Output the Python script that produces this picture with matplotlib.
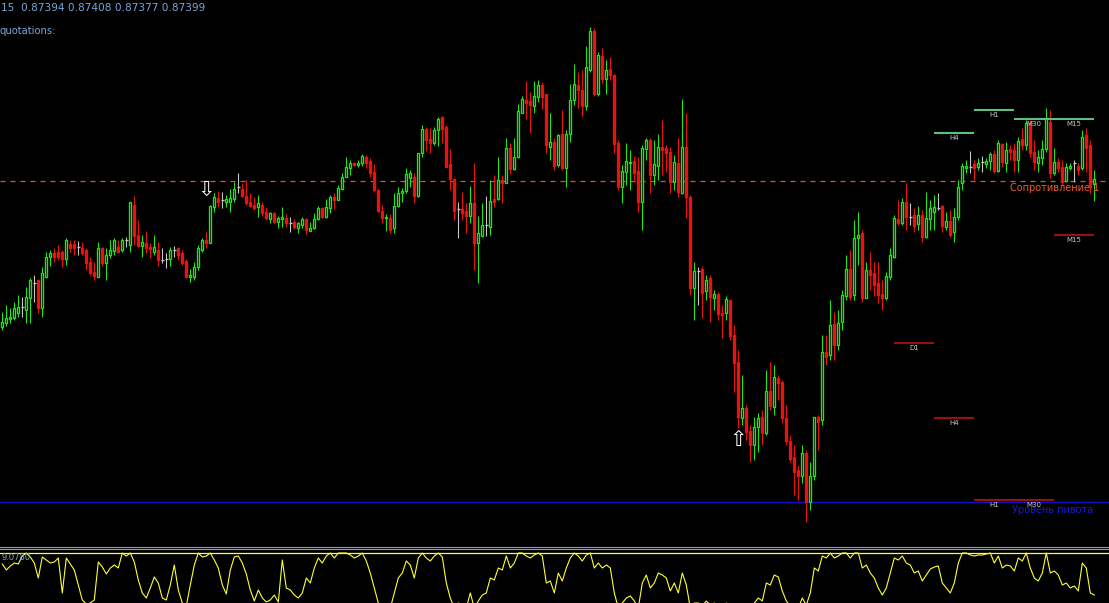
import numpy as np
import matplotlib
matplotlib.use("Agg")
import matplotlib.pyplot as plt
from matplotlib.lines import Line2D

# EURGBP M15, prices in points (1e-5) above 0.87000
opens = [251, 255, 259, 260, 265, 271, 268, 280, 295, 298, 270, 301, 321, 325, 326, 326, 319, 334, 334, 331,
         330, 328, 316, 306, 301, 330, 315, 323, 327, 331, 328, 338, 333, 373, 343, 332, 335, 331, 326, 328,
         318, 319, 319, 328, 330, 325, 317, 301, 301, 311, 328, 338, 335, 371, 380, 378, 376, 376, 379, 391,
         389, 382, 376, 373, 371, 373, 366, 359, 365, 356,
         359, 360, 355, 356, 350, 353, 359, 347, 350, 359, 370, 361, 370, 381, 378, 389, 401, 410, 415, 413,
         415, 421, 417, 406, 388, 367, 360, 360, 350, 372, 385, 387, 400, 401, 382, 425, 449, 439, 435, 448,
         461, 451, 414, 399, 369, 369, 367, 362, 375, 335, 342, 353, 351, 379, 379, 398, 395, 430, 409, 421,
         465, 478, 477, 472, 481, 493, 484, 431, 436, 413,
         444, 410, 444, 478, 493, 488, 472, 508, 547, 484, 522, 499, 509, 503, 435, 391, 406, 415, 417, 407,
         376, 429, 438, 403, 412, 431, 430, 426, 396, 415, 385, 431, 381, 290, 307, 309, 287, 300, 280, 284,
         265, 265, 278, 243, 216, 160, 170, 147, 133, 151, 161, 145, 187, 171, 200, 196, 160, 137, 121, 108,
         102, 125, 76, 102, 161, 158, 226, 223, 254, 233,
         256, 282, 309, 283, 340, 345, 280, 308, 305, 295, 284, 280, 301, 321, 359, 355, 376, 361, 363, 354,
         363, 341, 359, 366, 370, 372, 351, 357, 346, 361, 395, 410, 411, 414, 411, 416, 414, 417, 424, 407,
         434, 415, 429, 428, 418, 439, 433, 455, 426, 415, 420, 429, 456, 405, 416, 411, 397, 410, 415, 412,
         410, 443, 433, 394]
highs = [266, 273, 270, 276, 283, 281, 291, 300, 303, 298, 311, 326, 328, 330, 333, 328, 340, 338, 338, 337,
         336, 330, 321, 316, 336, 331, 330, 338, 340, 338, 340, 341, 376, 382, 358, 343, 347, 335, 343, 336,
         330, 325, 331, 332, 331, 328, 319, 309, 316, 333, 340, 346, 373, 385, 387, 386, 383, 389, 396, 405,
         395, 398, 385, 381, 383, 376, 371, 366, 366, 362,
         371, 364, 361, 359, 356, 361, 360, 356, 365, 372, 371, 379, 383, 385, 393, 405, 421, 418, 416, 418,
         424, 423, 420, 414, 389, 373, 364, 364, 385, 391, 390, 410, 408, 405, 425, 453, 451, 450, 451, 461,
         462, 453, 429, 400, 376, 386, 375, 392, 415, 362, 375, 382, 398, 403, 421, 403, 440, 435, 440, 474,
         482, 497, 486, 497, 498, 496, 484, 465, 440, 444,
         468, 448, 494, 514, 506, 508, 532, 551, 550, 526, 530, 518, 521, 504, 438, 413, 435, 428, 422, 421,
         433, 440, 440, 438, 444, 458, 433, 431, 423, 440, 479, 465, 383, 316, 311, 312, 303, 303, 288, 286,
         273, 282, 278, 253, 228, 203, 173, 153, 161, 165, 168, 208, 216, 213, 203, 198, 173, 143, 133, 113,
         133, 128, 116, 161, 163, 243, 243, 278, 266, 268,
         288, 323, 328, 358, 366, 348, 316, 326, 316, 316, 298, 306, 330, 363, 378, 380, 395, 375, 370, 372,
         368, 386, 378, 383, 385, 373, 366, 368, 370, 398, 415, 418, 427, 418, 420, 422, 420, 426, 428, 438,
         435, 436, 433, 435, 441, 450, 458, 458, 438, 428, 438, 470, 468, 430, 420, 418, 415, 415, 418, 415,
         448, 450, 438, 408]
lows = [248, 252, 255, 258, 261, 261, 255, 255, 276, 265, 261, 300, 312, 316, 318, 311, 313, 326, 323, 323,
        323, 308, 303, 298, 301, 312, 298, 320, 323, 325, 326, 331, 326, 333, 331, 321, 325, 320, 323, 312,
        315, 310, 312, 321, 318, 313, 300, 296, 298, 308, 326, 330, 335, 366, 371, 370, 371, 366, 376, 385,
        381, 373, 371, 368, 361, 362, 358, 355, 355, 350,
        351, 351, 346, 349, 345, 350, 344, 347, 349, 358, 360, 360, 365, 369, 378, 388, 401, 403, 412, 411,
        412, 410, 401, 386, 366, 355, 347, 345, 345, 371, 376, 385, 391, 375, 381, 421, 427, 425, 433, 432,
        435, 411, 388, 358, 340, 358, 345, 355, 308, 295, 342, 342, 343, 371, 378, 375, 395, 404, 408, 420,
        465, 459, 445, 465, 476, 469, 425, 418, 408, 411,
        408, 391, 436, 473, 470, 462, 468, 506, 482, 482, 495, 484, 498, 425, 388, 375, 393, 388, 396, 366,
        348, 418, 385, 393, 398, 403, 406, 385, 388, 381, 384, 360, 283, 258, 273, 260, 278, 256, 268, 258,
        240, 258, 238, 186, 150, 153, 138, 116, 118, 126, 133, 143, 168, 163, 178, 155, 133, 116, 83, 78,
        95, 56, 68, 98, 128, 153, 213, 218, 218, 228,
        248, 278, 278, 278, 313, 276, 280, 288, 282, 275, 268, 278, 298, 320, 353, 353, 348, 353, 346, 348,
        336, 340, 348, 348, 368, 346, 348, 341, 336, 358, 388, 405, 405, 398, 408, 406, 410, 408, 405, 406,
        411, 406, 418, 406, 406, 428, 428, 421, 408, 406, 413, 426, 400, 403, 406, 393, 396, 408, 396, 403,
        408, 406, 385, 377]
closes = [256, 260, 261, 270, 271, 271, 281, 298, 295, 270, 305, 321, 325, 321, 321, 319, 338, 330, 330, 331,
          325, 315, 305, 302, 330, 315, 323, 328, 338, 326, 338, 338, 376, 342, 332, 336, 330, 329, 331, 318,
          318, 319, 328, 328, 323, 315, 301, 303, 311, 330, 338, 335, 372, 381, 376, 378, 379, 380, 389, 391,
          382, 375, 372, 370, 375, 365, 360, 365, 356, 360,
          361, 355, 355, 351, 355, 359, 348, 350, 359, 370, 361, 371, 381, 378, 390, 401, 411, 415, 413, 415,
          422, 415, 405, 388, 367, 360, 361, 348, 372, 385, 387, 404, 405, 382, 425, 449, 438, 435, 448, 459,
          449, 411, 399, 367, 369, 365, 362, 375, 335, 345, 353, 353, 377, 376, 398, 395, 430, 409, 421, 467,
          479, 475, 473, 482, 493, 481, 433, 436, 412, 443,
          410, 444, 478, 494, 488, 472, 511, 547, 484, 523, 499, 508, 503, 434, 391, 407, 417, 416, 405, 376,
          430, 438, 403, 414, 431, 428, 425, 396, 416, 386, 431, 381, 290, 307, 307, 285, 298, 281, 284, 264,
          263, 279, 242, 215, 161, 170, 146, 133, 151, 160, 145, 187, 172, 201, 195, 160, 137, 119, 106, 102,
          125, 76, 102, 161, 156, 226, 221, 253, 233, 255,
          283, 309, 281, 340, 343, 280, 308, 303, 293, 283, 280, 302, 323, 360, 355, 376, 361, 361, 352, 363,
          341, 360, 370, 371, 370, 352, 357, 343, 361, 391, 412, 412, 411, 410, 415, 416, 417, 424, 407, 435,
          416, 428, 426, 418, 437, 433, 455, 425, 416, 421, 429, 460, 405, 416, 410, 396, 411, 412, 415, 408,
          441, 430, 391, 399]

# oscillator in the bottom window
osc = [89, 83, 87, 90, 89, 97, 100, 96, 90, 75, 96, 93, 90, 91, 95, 60, 95, 89, 83, 68,
       53, 49, 50, 53, 91, 86, 79, 85, 88, 85, 100, 97, 100, 91, 73, 60, 55, 65, 76, 70,
       55, 53, 68, 88, 63, 50, 47, 68, 88, 100, 96, 97, 100, 93, 85, 68, 59, 83, 96, 97,
       90, 79, 63, 52, 63, 55, 51, 53, 58, 51, 93, 65, 63, 58, 55,
       60, 75, 70, 85, 95, 90, 97, 100, 95, 100, 100, 100, 98, 95, 97,
       100, 92, 80, 65, 50, 45, 48, 45, 60, 75,
       80, 92, 88, 75, 95, 100, 95, 92, 97, 100, 96, 70, 55, 45,
       50, 48, 45, 60, 45, 52, 58, 60, 75, 73, 85, 83, 97, 85, 90, 100, 100, 97, 95, 98, 100, 97, 70, 72, 60, 80,
       72, 85, 95, 100, 97, 92, 98, 100, 85, 90, 85, 88, 85, 60, 45, 50, 55, 57, 52, 45, 70, 78, 65, 70, 80,
       78, 75, 62, 70, 60, 80,
       68, 45, 50, 50, 47, 52, 48, 50, 46, 45, 50, 47, 45, 45, 48, 46, 45, 50, 55, 52, 70, 68, 78, 76, 62,
       52, 47, 45, 45, 55, 48, 60, 85, 82, 97, 95, 100, 95, 97,
       100, 100, 95, 100, 100, 85, 88, 80, 75, 65, 58, 65, 80, 95, 93, 97, 90, 88, 80, 82, 72, 78, 84, 86,
       87, 70, 65, 60, 70, 90, 100, 100, 98, 97, 98, 98, 99, 100, 90, 97, 85, 88, 87, 82, 95, 92, 100, 85,
       75, 72, 80, 100, 80, 82, 78, 68, 70, 65, 67, 62, 90, 85, 60, 58]

# multi-timeframe levels (points), label, first bar, bars long
res_names = ["H4", "H1", "M30", "M15"]
res_levels = [445, 468, 459, 459]
res_start = [233, 243, 253, 263]
sup_names = ["D1", "H4", "H1", "M30", "M15"]
sup_levels = [235, 160, 78, 78, 343]
sup_start = [223, 233, 243, 253, 263]
level_len = 10

resistance1 = 397
pivot = 76

arrow_bars = [51, 184]
arrow_levels = [388, 138]
arrow_glyphs = ["\u21e9", "\u21e7"]

header = "15  0.87394 0.87408 0.87377 0.87399"

W, H = 1109, 603
BULL = "#1fe51f"
BEAR = "#e81212"
DOJI = "#c8c8c8"

o = np.array(opens) / 1e5 + 0.87
h = np.array(highs) / 1e5 + 0.87
l = np.array(lows) / 1e5 + 0.87
c = np.array(closes) / 1e5 + 0.87
x = np.arange(len(o))

fig = plt.figure(figsize=(W / 100, H / 100), dpi=100, facecolor="black")
ax = fig.add_axes([0, 58 / H, 1, 545 / H], facecolor="black")
ax.set_xlim(-0.575, 276.675)
ax.set_ylim(0.87033, 0.87578)
ax.axis("off")

up = c > o
down = c < o
flat = c == o
wick_col = np.where(up, BULL, np.where(down, BEAR, DOJI))
ax.vlines(x, l, h, colors=wick_col, lw=0.8, zorder=2)
ax.bar(x[up], (c - o)[up], bottom=o[up], width=0.55, facecolor="black",
       edgecolor=BULL, lw=0.95, zorder=3)
ax.bar(x[down], (o - c)[down], bottom=c[down], width=0.55, facecolor=BEAR,
       edgecolor=BEAR, lw=0.95, zorder=3)
ax.hlines(o[flat], x[flat] - 0.4, x[flat] + 0.4, colors=DOJI, lw=0.9, zorder=3)

# resistance / pivot lines
r1 = 0.87 + resistance1 / 1e5
pv = 0.87 + pivot / 1e5
ax.axhline(r1, color="#e8502a", lw=0.9, ls=(0, (4, 4)), zorder=1)
ax.axhline(pv, color="#1010c8", lw=0.9, zorder=1)
ax.text(251.9, r1 - 0.00007, "Сопротивление 1", color="#ee5a2a", fontsize=7,
        va="center", ha="left", zorder=5)
ax.text(252.4, pv - 0.00008, "Уровень пивота", color="#1818d8", fontsize=7,
        va="center", ha="left", zorder=5)

for name, lev, st in zip(res_names, res_levels, res_start):
    p = 0.87 + lev / 1e5
    ax.hlines(p, st, st + level_len, colors="#5fbf80", lw=1.5, zorder=4)
    ax.text(st + level_len / 2, p - 0.00005, name, color="#c8c8c8", fontsize=5,
            ha="center", va="center", zorder=5)
for name, lev, st in zip(sup_names, sup_levels, sup_start):
    p = 0.87 + lev / 1e5
    ax.hlines(p, st, st + level_len, colors="#9a1010", lw=1.5, zorder=4)
    ax.text(st + level_len / 2, p - 0.00005, name, color="#c8c8c8", fontsize=5,
            ha="center", va="center", zorder=5)

for b, lev, g in zip(arrow_bars, arrow_levels, arrow_glyphs):
    ax.text(b, 0.87 + lev / 1e5, g, color="white", fontsize=15, ha="center",
            va="center", zorder=6)

# header texts
fig.text(1 / W, 1 - 8 / H, header, color="#7aa6d6", fontsize=7.6, va="center", ha="left")
fig.text(0, 1 - 31 / H, "quotations:", color="#7aa6d6", fontsize=7.2, va="center", ha="left")

# window separator
for yy in (546.5, 548.5):
    fig.add_artist(Line2D([0, 1], [1 - yy / H, 1 - yy / H], transform=fig.transFigure,
                          color="#8a9cb8", lw=0.8))

# oscillator window
ax2 = fig.add_axes([0, 0, 1, 54 / H], facecolor="black")
ax2.set_xlim(-0.575, 276.675)
ax2.set_ylim(50, 104)
ax2.axis("off")
ax2.axhline(100, color="#ffff30", lw=0.9)
ax2.plot(np.arange(len(osc)), osc, color="#ffff30", lw=0.8)
ax2.text(0.001, 96, "9.0780", color="#8aa6c8", fontsize=6, va="center", ha="left",
         transform=ax2.get_yaxis_transform())

fig.savefig("out.png", dpi=100, facecolor="black")
